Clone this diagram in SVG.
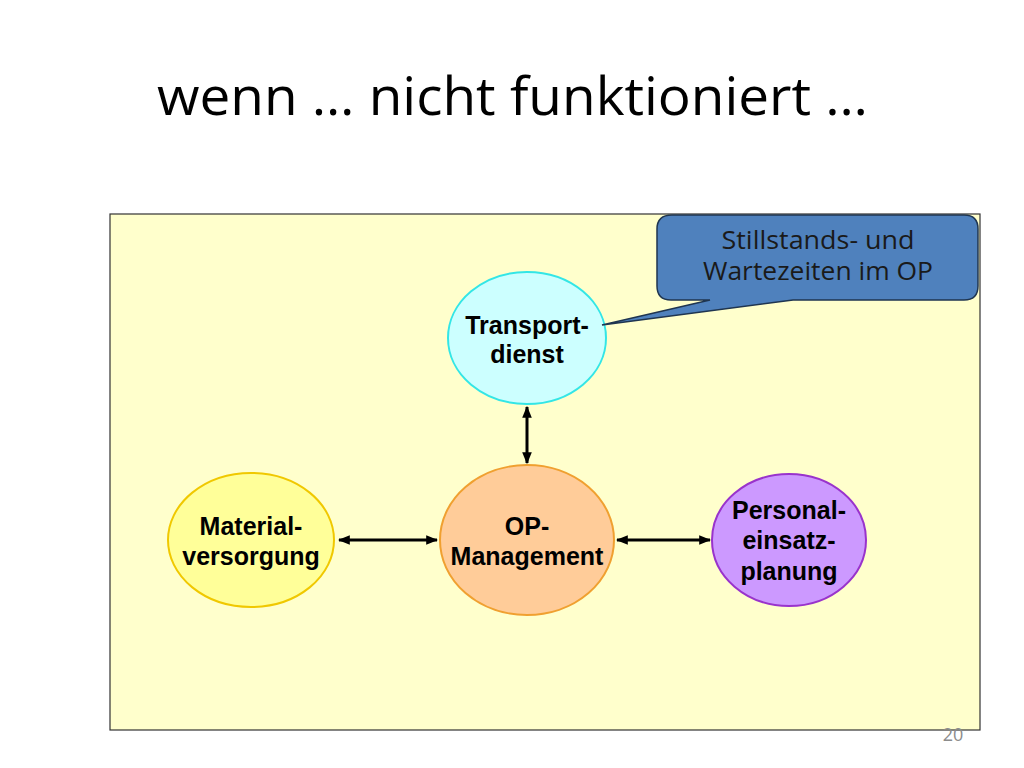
<svg xmlns="http://www.w3.org/2000/svg" width="1024" height="768" viewBox="0 0 1024 768">
  <defs>
    <marker id="ah" viewBox="0 0 10 10" refX="9" refY="5" markerWidth="4" markerHeight="4" orient="auto-start-reverse" markerUnits="strokeWidth">
      <path d="M0,1 L10,5 L0,9 z" fill="#000"/>
    </marker>
    <style>
      .node text { font-family: "Liberation Sans", Arial, sans-serif; font-weight: bold; font-size: 25px; fill: #000; text-anchor: middle; }
      .conn line { stroke: #000; stroke-width: 3; marker-start: url(#ah); marker-end: url(#ah); }
      .callout text { font-family: "Open Sans", "Liberation Sans", sans-serif; font-size: 25px; fill: #1a1a1a; text-anchor: middle; }
    </style>
  </defs>
  <rect width="1024" height="768" fill="#fff"/>
  <text x="157" y="115" font-family="'Open Sans', 'Liberation Sans', sans-serif" font-size="53" fill="#000" textLength="711" lengthAdjust="spacingAndGlyphs">wenn … nicht funktioniert …</text>

  <rect id="panel" x="110" y="214" width="870" height="516" fill="#FFFFCC" stroke="#333" stroke-width="1.2"/>

  <g id="connectors" class="conn">
    <line x1="527" y1="407" x2="527" y2="463"/>
    <line x1="339" y1="540" x2="437" y2="540"/>
    <line x1="617" y1="540" x2="710" y2="540"/>
  </g>

  <g id="transport" class="node">
    <ellipse cx="527" cy="338" rx="79" ry="66" fill="#CCFFFF" stroke="#33E6E6" stroke-width="2"/>
    <text x="527" y="334">Transport-</text>
    <text x="527" y="363">dienst</text>
  </g>
  <g id="op" class="node">
    <ellipse cx="527" cy="540" rx="87" ry="75" fill="#FFCC99" stroke="#F0A030" stroke-width="2"/>
    <text x="527" y="535">OP-</text>
    <text x="527" y="565">Management</text>
  </g>
  <g id="material" class="node">
    <ellipse cx="251" cy="540" rx="83" ry="67" fill="#FFFF99" stroke="#F0C800" stroke-width="2"/>
    <text x="251" y="535">Material-</text>
    <text x="251" y="565">versorgung</text>
  </g>
  <g id="personal" class="node">
    <ellipse cx="789" cy="540" rx="77" ry="66" fill="#CC99FF" stroke="#9933CC" stroke-width="2"/>
    <text x="789" y="519">Personal-</text>
    <text x="789" y="549">einsatz-</text>
    <text x="789" y="580">planung</text>
  </g>

  <g id="callout" class="callout">
    <path d="M672,215 H964 Q978,215 978,229 V286 Q978,300 964,300 H793 L602,325 L710,300 H671 Q657,300 657,286 V229 Q657,215 672,215 Z" fill="#4F81BD" stroke="#1F3550" stroke-width="1.5"/>
    <text x="818" y="249" textLength="193" lengthAdjust="spacingAndGlyphs">Stillstands- und</text>
    <text x="818" y="280" textLength="230" lengthAdjust="spacingAndGlyphs">Wartezeiten im OP</text>
  </g>

  <text x="953" y="741" font-family="'Open Sans', 'Liberation Sans', sans-serif" font-size="18" fill="#8c8c8c" text-anchor="middle">20</text>
</svg>
